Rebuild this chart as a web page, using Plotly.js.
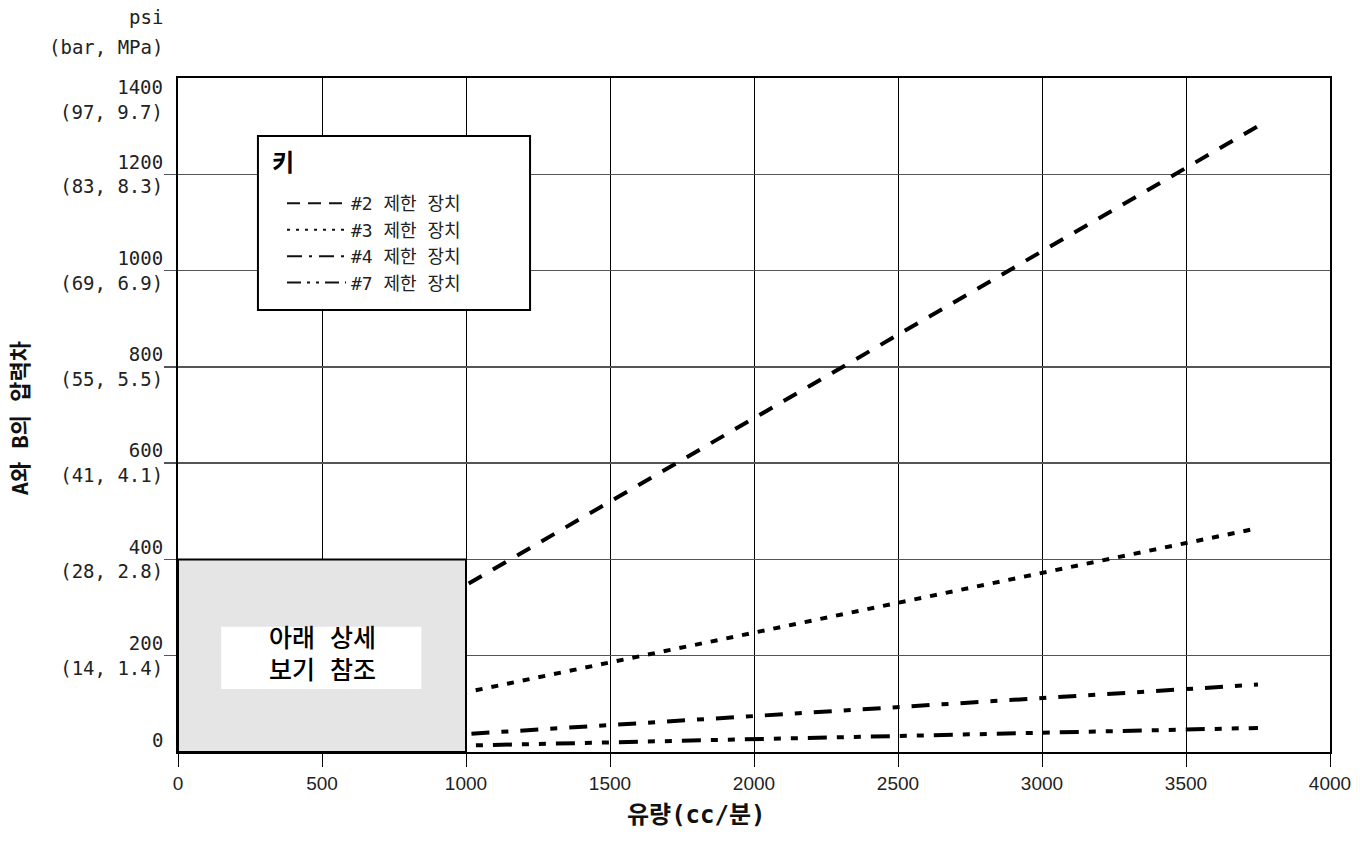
<!DOCTYPE html>
<html>
<head>
<meta charset="utf-8">
<script src="https://cdn.plot.ly/plotly-3.0.1.min.js"></script>
<style>html,body{margin:0;padding:0;background:#fff;}#chart{width:1360px;height:860px;}</style>
</head>
<body>
<div id="chart"></div>
<script>
// Data
const flowX = [0, 3750];                 // 유량 (cc/분)
const dev2 = [0, 1300];                  // #2 제한 장치 (psi)
const dev3 = [0, 465];                   // #3 제한 장치
const dev4 = [0, 140];                   // #4 제한 장치
const dev7 = [0, 50];                    // #7 제한 장치
const seriesNames = ['#2 제한 장치', '#3 제한 장치', '#4 제한 장치', '#7 제한 장치'];
const xTickVals = [0, 500, 1000, 1500, 2000, 2500, 3000, 3500, 4000];
const yTickVals = [200, 400, 600, 800, 1000, 1200];
const yTickText = ['200<br>(14, 1.4)', '400<br>(28, 2.8)', '600<br>(41, 4.1)', '800<br>(55, 5.5)', '1000<br>(69, 6.9)', '1200<br>(83, 8.3)'];
const yEdgeVals = [0, 1400];
const yEdgeText = ['0', '1400<br>(97, 9.7)'];
const detailBox = {x: [0, 1000], y: [0, 400]};

const MIX = '"DejaVu Sans Mono", "Noto Sans CJK KR", monospace';
const KR = '"Noto Sans CJK KR", "Noto Sans", sans-serif';
const lineDash = ['15px,13px', '7px,9px', '18px,12px,7px,12px', '19px,10px,7px,10px,7px,10px'];
const keyDash = ['13px,8px', '3px,6px', '15px,7px,3px,7px', '14px,6px,3px,6px,3px,6px'];
const ys = [dev2, dev3, dev4, dev7];

const dataTraces = ys.map((y, i) => ({
  type: 'scatter', mode: 'lines', x: flowX, y: y, name: seriesNames[i],
  showlegend: false,
  line: {color: '#000', width: 4, dash: lineDash[i]},
  hoverinfo: 'skip'
}));
// legend-only entries (thin key samples like the reference's key box)
const keyTraces = seriesNames.map((n, i) => ({
  type: 'scatter', mode: 'lines', x: [null], y: [null], name: n, showlegend: true,
  line: {color: '#111', width: 2, dash: keyDash[i]}, hoverinfo: 'skip'
}));

const layout = {
  width: 1360, height: 860,
  margin: {l: 178, r: 30, t: 78, b: 108},
  paper_bgcolor: '#fff', plot_bgcolor: '#fff',
  showlegend: true,
  legend: {
    x: 0.0903, y: 0.841, xanchor: 'left', yanchor: 'top',
    bgcolor: 'rgba(0,0,0,0)', borderwidth: 0,
    font: {family: MIX, size: 18, color: '#222'},
    itemwidth: 59, traceorder: 'normal',
    itemclick: false, itemdoubleclick: false
  },
  xaxis: {
    range: [0, 4000], tickvals: xTickVals, ticktext: xTickVals.map(String),
    showgrid: true, gridcolor: '#000', gridwidth: 1,
    zeroline: false, showline: true, linecolor: '#000', linewidth: 2, mirror: true,
    ticks: 'outside', ticklen: 13, tickcolor: '#000', tickwidth: 1,
    tickfont: {family: 'Liberation Sans, Arial, sans-serif', size: 19, color: '#222'},
    fixedrange: true
  },
  yaxis: {
    range: [0, 1400], tickvals: yTickVals, ticktext: yTickText,
    showgrid: true, gridcolor: '#555', gridwidth: 1.5,
    zeroline: false, showline: true, linecolor: '#000', linewidth: 2, mirror: true,
    ticks: 'outside', ticklen: 12, tickcolor: '#555', tickwidth: 1.5,
    ticklabelstandoff: -3,
    tickfont: {family: MIX, size: 19, color: '#222'},
    fixedrange: true
  },
  shapes: [
    {type: 'rect', xref: 'x', yref: 'y', x0: detailBox.x[0], x1: detailBox.x[1], y0: detailBox.y[0], y1: detailBox.y[1],
     fillcolor: '#e5e5e5', line: {color: '#000', width: 2}, layer: 'above'},
    {type: 'rect', xref: 'x', yref: 'y', x0: 150, x1: 845, y0: 131, y1: 260,
     fillcolor: '#fff', line: {width: 0}, layer: 'above'},
    {type: 'rect', xref: 'paper', yref: 'paper', x0: 0.0694, x1: 0.3056, y0: 0.6558, y1: 0.9139,
     fillcolor: '#fff', line: {color: '#000', width: 2}, layer: 'above'}
  ],
  annotations: [
    {xref: 'x', yref: 'y', x: 500, y: 235, text: '아래 상세', showarrow: false,
     font: {family: MIX, size: 25, color: '#000', weight: 500}},
    {xref: 'x', yref: 'y', x: 500, y: 169, text: '보기 참조', showarrow: false,
     font: {family: MIX, size: 25, color: '#000', weight: 500}},
    {xref: 'paper', yref: 'paper', x: 0.0799, y: 0.8783, xanchor: 'left', yanchor: 'middle',
     text: '키', showarrow: false, font: {family: KR, size: 24, color: '#000', weight: 'bold'}},
    {xref: 'paper', yref: 'paper', x: -0.0113, y: 1.09, xanchor: 'right', yanchor: 'middle',
     text: 'psi', showarrow: false, font: {family: MIX, size: 19, color: '#222'}},
    {xref: 'paper', yref: 'paper', x: -0.0113, y: 1.046, xanchor: 'right', yanchor: 'middle',
     text: '(bar, MPa)', showarrow: false, font: {family: MIX, size: 19, color: '#222'}},
    {xref: 'paper', yref: 'y', x: -0.0113, y: yEdgeVals[0], yshift: 12, xanchor: 'right', yanchor: 'middle', align: 'right',
     text: yEdgeText[0], showarrow: false, font: {family: MIX, size: 19, color: '#222'}},
    {xref: 'paper', yref: 'y', x: -0.0113, y: yEdgeVals[1], yshift: -21, xanchor: 'right', yanchor: 'middle', align: 'right',
     text: yEdgeText[1], showarrow: false, font: {family: MIX, size: 19, color: '#222'}},
    {xref: 'paper', yref: 'paper', x: 0.4505, y: -0.0935, xanchor: 'center', yanchor: 'middle',
     text: '유량(cc/분)', showarrow: false, font: {family: MIX, size: 24, color: '#111', weight: 'bold'}},
    {xref: 'paper', yref: 'paper', x: -0.137, y: 0.4955, xanchor: 'center', yanchor: 'middle', textangle: -90,
     text: 'A와 B의 압력차', showarrow: false, font: {family: MIX, size: 22, color: '#111', weight: 'bold'}}
  ]
};

Plotly.newPlot('chart', dataTraces.concat(keyTraces), layout, {displayModeBar: false, staticPlot: true});
</script>
</body>
</html>
